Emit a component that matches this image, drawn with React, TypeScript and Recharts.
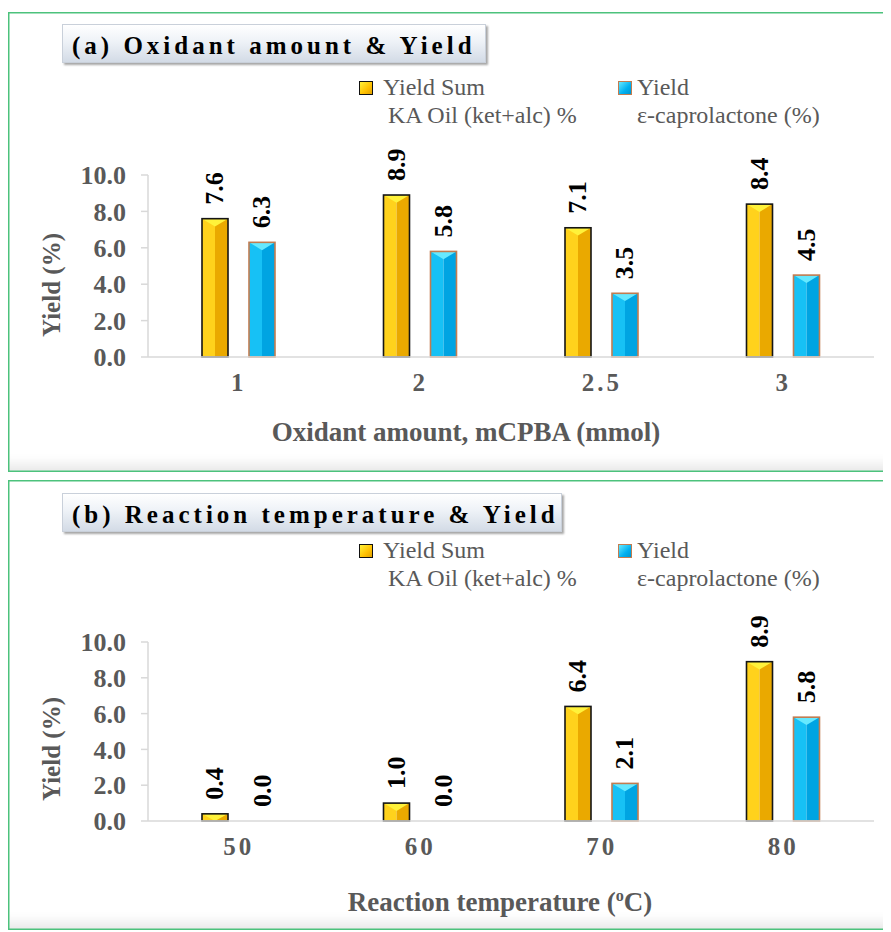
import React from 'react';
import { BarChart, Bar, XAxis, YAxis, LabelList } from 'recharts';

const oxidantAmounts = ['1', '2', '2.5', '3'];
const oxidantKaOil = [7.6, 8.9, 7.1, 8.4];
const oxidantCaprolactone = [6.3, 5.8, 3.5, 4.5];

const temperatures = ['50', '60', '70', '80'];
const temperatureKaOil = [0.4, 1.0, 6.4, 8.9];
const temperatureCaprolactone = [0.0, 0.0, 2.1, 5.8];

const yieldTicks = [0, 2, 4, 6, 8, 10];

const SERIF = "'Liberation Serif', 'Times New Roman', serif";
const AXIS_GREY = '#d9d9d9';
const TEXT_GREY = '#595959';

const GOLD = { edge: '#151515', light: '#ffd21c', dark: '#eaa900', top: '#fff23a' };
const BLUE = { edge: '#c27c50', light: '#17c1f5', dark: '#00a4e2', top: '#66e9ff' };

type Tone = typeof GOLD;

// bevelled bar: split light/dark halves with a chevron highlight on top
const makeBar = (tone: Tone) => (props: any) => {
  const { x, y, width, height } = props;
  if (!height || height <= 0) return null;
  const tip = Math.min(width * 0.3, height);
  return (
    <g>
      <rect x={x} y={y} width={width / 2} height={height} fill={tone.light} />
      <rect x={x + width / 2} y={y} width={width / 2} height={height} fill={tone.dark} />
      <polygon points={`${x},${y} ${x + width},${y} ${x + width / 2},${y + tip}`} fill={tone.top} />
      <rect x={x} y={y} width={width} height={height} fill="none" stroke={tone.edge} strokeWidth={1.6} />
    </g>
  );
};

const goldBar = makeBar(GOLD);
const blueBar = makeBar(BLUE);

const valueLabel = (props: any) => {
  const { x, y, width, value } = props;
  const cx = x + width / 2;
  const ty = y - 14;
  return (
    <text
      x={cx}
      y={ty}
      transform={`rotate(-90, ${cx}, ${ty})`}
      textAnchor="start"
      dominantBaseline="central"
      fontFamily={SERIF}
      fontWeight={700}
      fontSize={26}
      fill="#000"
    >
      {Number(value).toFixed(1)}
    </text>
  );
};

const categoryTick = (props: any) => {
  const { x, y, payload } = props;
  return (
    <text
      x={x}
      y={y + 26}
      textAnchor="middle"
      fontFamily={SERIF}
      fontWeight={700}
      fontSize={25}
      fill={TEXT_GREY}
      style={{ letterSpacing: 3 }}
    >
      {payload.value}
    </text>
  );
};

type PanelProps = {
  top: number;
  height: number;
  title: string;
  titleWidth: number;
  titleTop: number;
  legendTop: number;
  categories: string[];
  kaOil: number[];
  caprolactone: number[];
  plotTop: number;
  plotBottom: number;
  yTitleY: number;
  xTitle: React.ReactNode;
  xTitleX: number;
  xTitleY: number;
};

const legendSwatch = (left: number, edge: string, fill: string) => (
  <div
    style={{
      position: 'absolute',
      left,
      top: 8,
      width: 12,
      height: 12,
      border: `1.5px solid ${edge}`,
      background: fill,
    }}
  />
);

const Panel = (p: PanelProps) => {
  const data = p.categories.map((cat, i) => ({ cat, ka: p.kaOil[i], cap: p.caprolactone[i] }));
  const width = 880;
  return (
    <div
      style={{
        position: 'absolute',
        left: 0,
        top: p.top,
        width,
        height: p.height,
        background: '#fff',
        boxShadow: 'inset 0 0 0 1.5px #4cc27c, inset 0 -18px 12px -10px rgba(0,0,0,0.09)',
        fontFamily: SERIF,
      }}
    >
      <div
        style={{
          position: 'absolute',
          left: 54,
          top: p.titleTop,
          width: p.titleWidth,
          height: 39,
          boxSizing: 'border-box',
          background: 'linear-gradient(to bottom, #ffffff 0%, #eef2f7 45%, #d3dbe6 100%)',
          border: '1px solid #c9d0da',
          boxShadow: '2px 2px 2px rgba(0,0,0,0.35)',
          fontWeight: 700,
          fontSize: 25,
          letterSpacing: 4,
          lineHeight: '42px',
          paddingLeft: 9,
          color: '#000',
          whiteSpace: 'nowrap',
        }}
      >
        {p.title}
      </div>

      {/* legend */}
      <div style={{ position: 'absolute', left: 350, top: p.legendTop, fontSize: 24, color: TEXT_GREY, lineHeight: '29px' }}>
        {legendSwatch(1, '#111', 'linear-gradient(135deg, #fff23a, #ffc000 60%, #e0a000)')}
        <div style={{ position: 'absolute', left: 25, top: 0, whiteSpace: 'nowrap' }}>Yield Sum</div>
        <div style={{ position: 'absolute', left: 30, top: 28, whiteSpace: 'nowrap' }}>KA Oil (ket+alc) %</div>
        {legendSwatch(260, '#c27c50', 'linear-gradient(135deg, #66e9ff, #00b0f0 60%, #0096d0)')}
        <div style={{ position: 'absolute', left: 279, top: 0, whiteSpace: 'nowrap' }}>Yield</div>
        <div style={{ position: 'absolute', left: 279, top: 28, whiteSpace: 'nowrap' }}>ε-caprolactone (%)</div>
      </div>

      <div
        style={{
          position: 'absolute',
          left: 44,
          top: p.yTitleY,
          transform: 'translate(-50%, -50%) rotate(-90deg)',
          fontWeight: 700,
          fontSize: 25,
          color: TEXT_GREY,
          whiteSpace: 'nowrap',
        }}
      >
        Yield (%)
      </div>

      <div
        style={{
          position: 'absolute',
          left: p.xTitleX,
          top: p.xTitleY,
          transform: 'translate(-50%, -50%)',
          fontWeight: 700,
          fontSize: 27,
          color: TEXT_GREY,
          whiteSpace: 'nowrap',
        }}
      >
        {p.xTitle}
      </div>

      <div style={{ position: 'absolute', left: 0, top: 0 }}>
        <BarChart
          width={width}
          height={p.height}
          data={data}
          margin={{ top: p.plotTop, right: 14, left: 80, bottom: p.height - p.plotBottom - 30 }}
          barGap={21}
          barSize={26}
        >
          <XAxis
            dataKey="cat"
            axisLine={{ stroke: AXIS_GREY, strokeWidth: 1.5 }}
            tickLine={false}
            tick={categoryTick}
            height={30}
            interval={0}
          />
          <YAxis
            width={60}
            domain={[0, 10]}
            ticks={yieldTicks}
            interval={0}
            tickFormatter={(v: number) => v.toFixed(1)}
            axisLine={{ stroke: AXIS_GREY, strokeWidth: 1.5 }}
            tickLine={{ stroke: AXIS_GREY, strokeWidth: 1.5 }}
            tickSize={7}
            tickMargin={15}
            tick={{ fontFamily: SERIF, fontWeight: 700, fontSize: 26, fill: TEXT_GREY }}
          />
          <Bar dataKey="ka" shape={goldBar} isAnimationActive={false}>
            <LabelList dataKey="ka" content={valueLabel} />
          </Bar>
          <Bar dataKey="cap" shape={blueBar} isAnimationActive={false}>
            <LabelList dataKey="cap" content={valueLabel} />
          </Bar>
        </BarChart>
      </div>
    </div>
  );
};

export default function App() {
  return (
    <div style={{ position: 'relative', width: 880, height: 924 }}>
      <Panel
        top={4}
        height={460}
        title="(a) Oxidant amount & Yield"
        titleWidth={424}
        titleTop={12}
        legendTop={61}
        categories={oxidantAmounts}
        kaOil={oxidantKaOil}
        caprolactone={oxidantCaprolactone}
        plotTop={163}
        plotBottom={345}
        yTitleY={273}
        xTitle="Oxidant amount, mCPBA (mmol)"
        xTitleX={458}
        xTitleY={420}
      />
      <Panel
        top={472}
        height={450}
        title="(b) Reaction temperature & Yield"
        titleWidth={500}
        titleTop={13}
        legendTop={56}
        categories={temperatures}
        kaOil={temperatureKaOil}
        caprolactone={temperatureCaprolactone}
        plotTop={162}
        plotBottom={341}
        yTitleY={269}
        xTitle={
          <span>
            Reaction temperature (<sup style={{ fontSize: '0.6em' }}>o</sup>C)
          </span>
        }
        xTitleX={492}
        xTitleY={422}
      />
    </div>
  );
}
